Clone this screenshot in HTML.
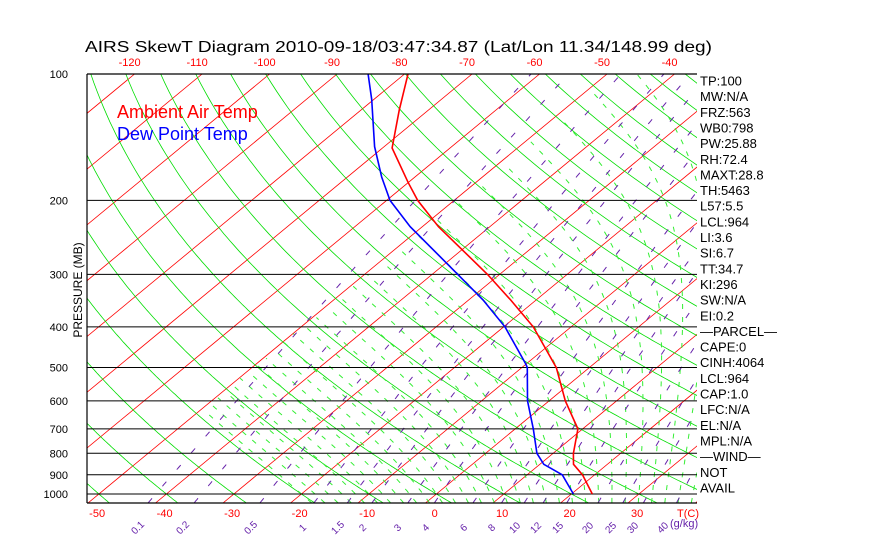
<!DOCTYPE html>
<html><head><meta charset="utf-8">
<style>
html,body{margin:0;padding:0;background:#fff;}
svg{display:block;font-family:"Liberation Sans",sans-serif;}
</style></head>
<body>
<svg id="chart" width="870" height="560" viewBox="0 0 870 560" xmlns="http://www.w3.org/2000/svg">
<defs><clipPath id="clip"><rect x="87" y="74" width="610" height="429"/></clipPath></defs>
<text x="85" y="52" font-size="16" fill="#000" textLength="627" lengthAdjust="spacingAndGlyphs">AIRS SkewT Diagram 2010-09-18/03:47:34.87 (Lat/Lon 11.34/148.99 deg)</text>
<g id="grid" clip-path="url(#clip)"></g>
<g id="traces" clip-path="url(#clip)"></g>
<g id="axes"></g>
<text x="117" y="118" font-size="18" fill="#ff0000">Ambient Air Temp</text>
<text x="117" y="140" font-size="18" fill="#0000ff">Dew Point Temp</text>
<text transform="translate(82,290) rotate(-90)" text-anchor="middle" font-size="12" fill="#000">PRESSURE (MB)</text>
<g id="stats" font-size="13" fill="#000"></g>
</svg>
<script>
const pressureLevels = [100,200,300,400,500,600,700,800,900,1000];
const tempPres = [100,122,150,181,200,231,300,345,400,500,600,700,800,850,900,1000];
const tempVals = [-79.5,-74.3,-68.6,-60.1,-55.4,-47.6,-31.8,-23.8,-15.6,-4.9,2.4,9.3,13.0,15.0,18.2,23.1];
const dewPres = [100,115,149,176,200,231,300,345,400,490,500,600,700,800,850,900,1000];
const dewVals = [-85.4,-80.3,-71.4,-64.9,-59.5,-51.8,-36.2,-27.9,-19.8,-10.1,-9.2,-3.2,2.7,7.6,10.6,15.2,20.3];
const topTicks = [-120,-110,-100,-90,-80,-70,-60,-50,-40];
const bottomTicks = [-50,-40,-30,-20,-10,0,10,20,30];
const mixRatios = [0.1,0.2,0.5,1,1.5,2,3,4,6,8,10,12,15,20,25,30,40];
const mixLabelX = [140,185,253,305,340,365,400,428,466,494,517,538,560,590,613,635,665];
const statLines = ["TP:100","MW:N/A","FRZ:563","WB0:798","PW:25.88","RH:72.4","MAXT:28.8","TH:5463","L57:5.5","LCL:964","LI:3.6","SI:6.7","TT:34.7","KI:296","SW:N/A","EI:0.2","\u2014PARCEL\u2014","CAPE:0","CINH:4064","LCL:964","CAP:1.0","LFC:N/A","EL:N/A","MPL:N/A","\u2014WIND\u2014","NOT","AVAIL"];

const NS="http://www.w3.org/2000/svg";
function yP(p){return 74+182.4*Math.log(p/100);}
function xTP(T,p){return 425.5+6.75*T+1.21*(503-yP(p));}
function mk(tag,attrs,parent){const e=document.createElementNS(NS,tag);for(const k in attrs)e.setAttribute(k,attrs[k]);parent.appendChild(e);return e;}
function pathFrom(pts){return pts.map((q,i)=>(i?'L':'M')+q[0].toFixed(1)+' '+q[1].toFixed(1)).join(' ');}
const grid=document.getElementById('grid'),traces=document.getElementById('traces'),axes=document.getElementById('axes');
const plevs=[];for(let p=1050;p>=100;p-=5)plevs.push(p);

for(let T=-160;T<=50;T+=10){
  const e=mk('line',{x1:xTP(T,1050),y1:yP(1050),x2:xTP(T,100),y2:yP(100),stroke:'#ff0000','stroke-width':0.8},grid);
  
  
}
for(let th=-50;th<=200;th+=10){
  const pts=plevs.map(p=>{const T=(th+273.15)*Math.pow(p/1000,0.2857)-273.15;return [xTP(T,p),yP(p)];});
  const e=mk('path',{d:pathFrom(pts),fill:'none',stroke:'#00dd00','stroke-width':0.8},grid);
  
  
}
function es(T){return 6.112*Math.exp(17.67*T/(T+243.5));}
function dTdp(T,p){const rs=0.622*es(T-273.15)/(p-es(T-273.15));return (287*T+2.5e6*rs)/(1004+2.5e6*2.5e6*rs*0.622/(287*T*T))/p;}
for(let T0=-20;T0<=38;T0+=2){
  let T=T0+273.15;
  for(let pp=1000;pp<1050;pp+=5){T+=dTdp(T,pp)*5;}
  const pts=[];
  for(let p=1050;p>=100;p-=5){
    if(T-273.15<-50)break;
    pts.push([xTP(T-273.15,p),yP(p)]);
    T-=dTdp(T,p)*5;
  }
  if(pts.length<2)continue;
  const e=mk('path',{d:pathFrom(pts),fill:'none',stroke:'#33ee33','stroke-width':1,'stroke-dasharray':'5 8'},grid);
  
  
}
mixRatios.forEach(r=>{
  const pts=plevs.map(p=>{const e=r*p/(622+r);const l=Math.log(e/6.112);const Td=243.5*l/(17.67-l);return [xTP(Td,p),yP(p)];});
  const e=mk('path',{d:pathFrom(pts),fill:'none',stroke:'#6622aa','stroke-width':1,'stroke-dasharray':'6 16'},grid);
  
  
});
pressureLevels.forEach(p=>{
  const e=mk('line',{x1:87,y1:yP(p),x2:697,y2:yP(p),stroke:'#000','stroke-width':1},grid);
  
  
  const t=mk('text',{x:68,y:yP(p)+4,'text-anchor':'end','font-size':11,fill:'#000'},axes);
  t.textContent=p;
  
  
});
{const e=mk('line',{x1:87,y1:74,x2:87,y2:503,stroke:'#000','stroke-width':1.2},axes);


const b=mk('line',{x1:87,y1:503,x2:697,y2:503,stroke:'#000','stroke-width':1.2},axes);


const t=mk('line',{x1:87,y1:74,x2:697,y2:74,stroke:'#000','stroke-width':1.2},axes);

}
function trace(P,V,color,name){
  const pts=P.map((p,i)=>[xTP(V[i],p),yP(p)]);
  const e=mk('path',{d:pathFrom(pts),fill:'none',stroke:color,'stroke-width':1.6},traces);
  
  
}
trace(tempPres,tempVals,'#ff0000','temperature-trace');
trace(dewPres,dewVals,'#0000ff','dewpoint-trace');
topTicks.forEach(T=>{
  const t=mk('text',{x:xTP(T,100)-5,y:66,'text-anchor':'middle','font-size':11,fill:'#ff0000'},axes);
  t.textContent=T;
  
  
});
bottomTicks.forEach(T=>{
  const t=mk('text',{x:xTP(T,1050)+9,y:517,'text-anchor':'middle','font-size':11,fill:'#ff0000'},axes);
  t.textContent=T;
  
  
});
{const t=mk('text',{x:688,y:517,'text-anchor':'middle','font-size':11,fill:'#ff0000'},axes);
t.textContent='T(C)';

}
mixRatios.forEach((r,i)=>{
  const t=mk('text',{transform:'translate('+mixLabelX[i]+',530) rotate(-45)','text-anchor':'middle','font-size':10,fill:'#6622aa'},axes);
  t.textContent=r;
  
  
});
{const t=mk('text',{x:670,y:527,'font-size':11,fill:'#6622aa'},axes);
t.textContent='(g/kg)';

}
const stats=document.getElementById('stats');
statLines.forEach((s,i)=>{
  const t=mk('text',{x:700,y:85.5+i*15.65},stats);
  t.textContent=s;
  
  
});
</script>
</body></html>
